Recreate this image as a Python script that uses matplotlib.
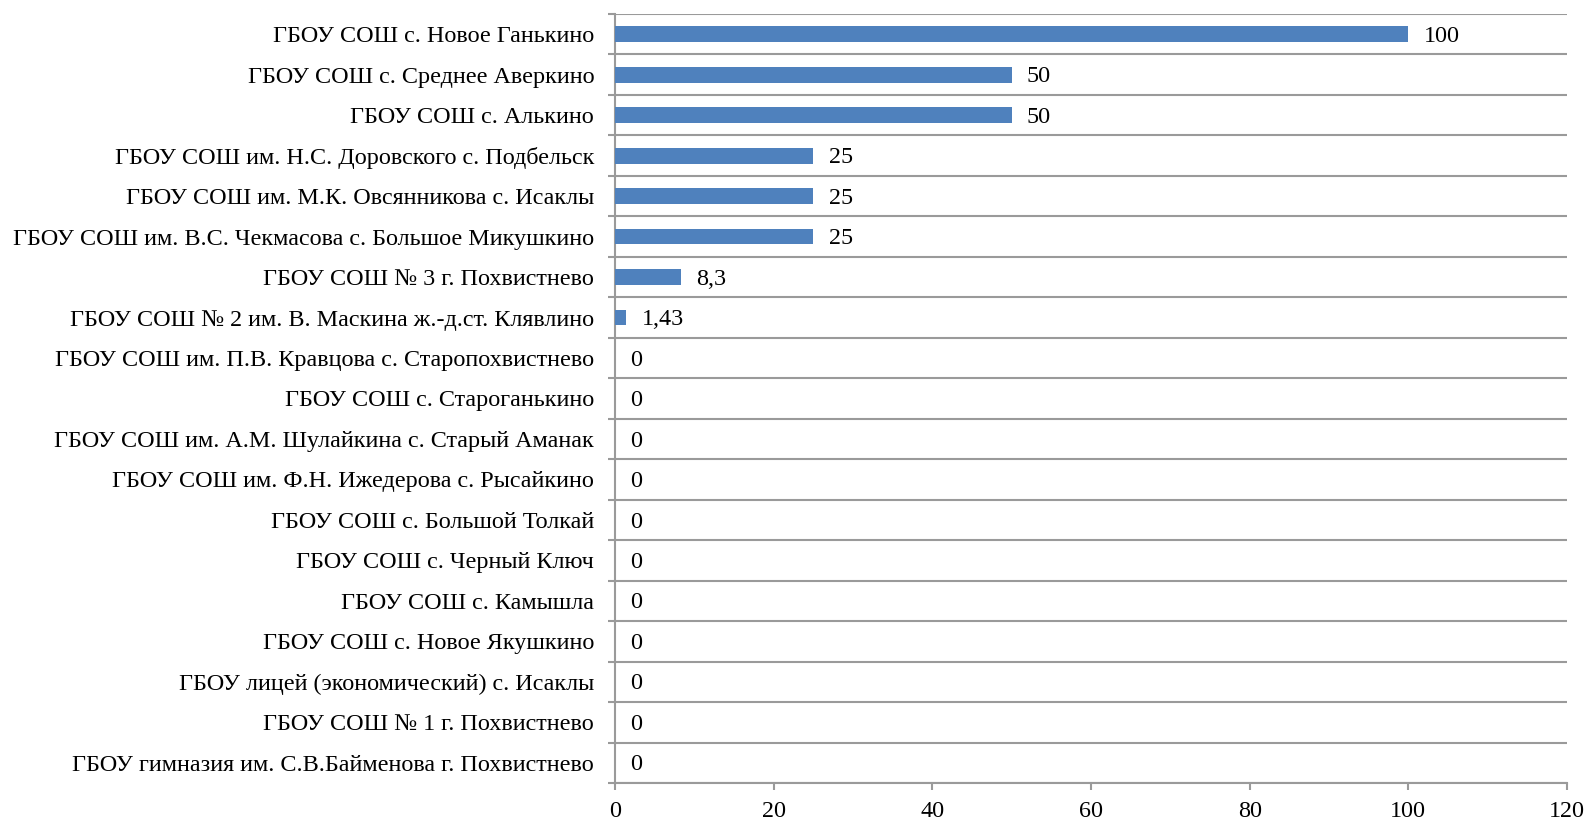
import numpy as np
import matplotlib.pyplot as plt

plt.rcParams['font.family'] = ['Liberation Serif', 'DejaVu Serif']

schools = [
    "ГБОУ СОШ с. Новое Ганькино",
    "ГБОУ СОШ с. Среднее Аверкино",
    "ГБОУ СОШ с. Алькино",
    "ГБОУ СОШ им. Н.С. Доровского с. Подбельск",
    "ГБОУ СОШ им. М.К. Овсянникова с. Исаклы",
    "ГБОУ СОШ им. В.С. Чекмасова с. Большое Микушкино",
    "ГБОУ СОШ № 3 г. Похвистнево",
    "ГБОУ СОШ № 2 им. В. Маскина ж.-д.ст. Клявлино",
    "ГБОУ СОШ им. П.В. Кравцова с. Старопохвистнево",
    "ГБОУ СОШ с. Староганькино",
    "ГБОУ СОШ им. А.М. Шулайкина с. Старый Аманак",
    "ГБОУ СОШ им. Ф.Н. Ижедерова с. Рысайкино",
    "ГБОУ СОШ с. Большой Толкай",
    "ГБОУ СОШ с. Черный Ключ",
    "ГБОУ СОШ с. Камышла",
    "ГБОУ СОШ с. Новое Якушкино",
    "ГБОУ лицей (экономический) с. Исаклы",
    "ГБОУ СОШ № 1 г. Похвистнево",
    "ГБОУ гимназия им. С.В.Байменова г. Похвистнево",
]
values = [100, 50, 50, 25, 25, 25, 8.3, 1.43, 0, 0, 0, 0, 0, 0, 0, 0, 0, 0, 0]
value_labels = ["100", "50", "50", "25", "25", "25", "8,3", "1,43",
                "0", "0", "0", "0", "0", "0", "0", "0", "0", "0", "0"]
xticks = [0, 20, 40, 60, 80, 100, 120]

GRID = '#9a9a9a'
BAR = '#4F81BD'
FS = 17.4

fig = plt.figure(figsize=(15.9, 8.23), dpi=100)
ax = fig.add_axes([0.3868, 0.0486, 0.5987, 0.9344])

y = np.arange(len(schools))
ax.barh(y, values, height=0.39, color=BAR, zorder=3)
for yi, v, lab in zip(y, values, value_labels):
    ax.annotate(lab, xy=(v, yi), xytext=(11, -1.5), textcoords='offset points',
                ha='left', va='center', fontsize=FS, color='black')

ax.set_xlim(0, 120)
ax.set_ylim(len(schools) - 0.5, -0.5)
ax.set_xticks(xticks)
ax.set_yticks(y)
ax.set_yticklabels(schools)
ax.set_yticks(np.arange(len(schools) + 1) - 0.5, minor=True)
ax.tick_params(axis='y', which='major', length=0, pad=15, labelsize=FS)
ax.tick_params(axis='y', which='minor', length=5, width=1.5, color=GRID)
ax.tick_params(axis='x', length=5, width=1.5, color=GRID, pad=8, labelsize=FS)
ax.grid(axis='y', which='minor', color=GRID, linewidth=1.5, zorder=1)
ax.grid(axis='y', which='major', visible=False)

for s in ['top', 'right']:
    ax.spines[s].set_visible(False)
for s in ['left', 'bottom']:
    ax.spines[s].set_color(GRID)
    ax.spines[s].set_linewidth(1.5)

fig.savefig('out.png', dpi=100)
